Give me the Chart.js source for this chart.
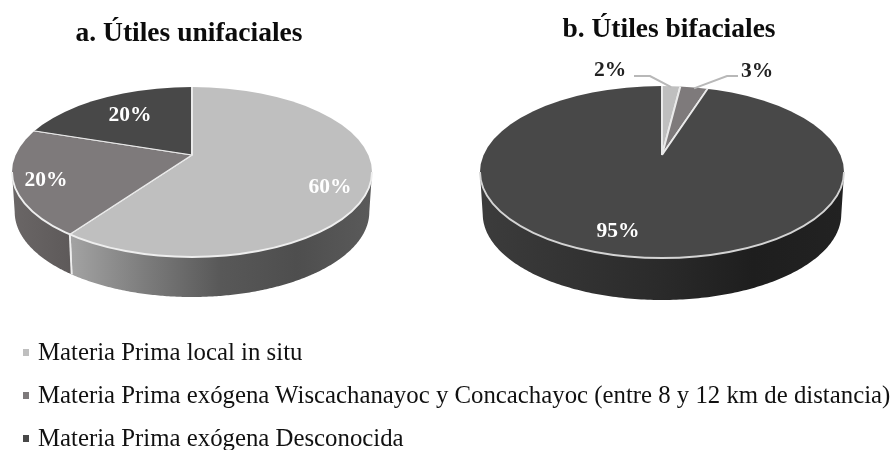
<!DOCTYPE html>
<html><head><meta charset="utf-8">
<script src="https://cdn.jsdelivr.net/npm/chart.js@4"></script>
<style>
html,body{margin:0;padding:0;background:#fff;width:894px;height:450px;overflow:hidden}
#stage{position:relative;width:894px;height:450px;overflow:hidden;filter:blur(.6px)}
canvas{position:absolute;top:0}
.lg{position:absolute;left:38px;font:24.8px "Liberation Serif",serif;color:#111;white-space:nowrap;line-height:26px}
.sq{position:absolute;left:23px;width:6px;height:7px}
</style></head><body>
<div id="stage">
<canvas id="a" width="378" height="320" style="left:0;width:378px;height:320px"></canvas>
<canvas id="b" width="400" height="320" style="left:469px;width:400px;height:320px"></canvas>
</div>
<script>
const categories = ["Materia Prima local in situ",
  "Materia Prima exógena Wiscachanayoc y Concachayoc (entre 8 y 12 km de distancia)",
  "Materia Prima exógena Desconocida"];
const titleA = "a. Útiles unifaciales";
const titleB = "b. Útiles bifaciales";
const valuesA = [60, 20, 20];
const valuesB = [2, 3, 95];
const sliceColors = ["#bfbfbf", "#7e7a7b", "#484848"];

function pointOnRim(g, theta){
  const dx = Math.cos(theta), dy = g.k * Math.sin(theta);
  const ox = (g.ax - g.cx) / g.rx, oy = (g.ay - g.cy) / g.ry;
  const A = (dx/g.rx)**2 + (dy/g.ry)**2, B = 2*(ox*dx/g.rx + oy*dy/g.ry), C = ox*ox + oy*oy - 1;
  const t = (-B + Math.sqrt(B*B - 4*A*C)) / (2*A);
  return {x: g.ax + t*dx, y: g.ay + t*dy};
}

const pie3d = {
  id: "pie3d",
  beforeDatasetsDraw(chart, _a, g){
    const ctx = chart.ctx, arcs = chart.getDatasetMeta(0).data;
    arcs.forEach((arc, i) => {
      const pts = [];
      for (let s = 0; s <= 400; s++){
        const p = pointOnRim(g, arc.startAngle + (arc.endAngle - arc.startAngle)*s/400);
        if (p.y >= g.cy) pts.push(p);
      }
      if (!pts.length) return;
      pts.sort((p, q) => p.x - q.x);
      const below = p => ({x: g.cx + (p.x - g.cx)*g.taper, y: p.y + g.depth});
      const x0 = pts[0].x, x1 = pts[pts.length-1].x;
      const grad = ctx.createLinearGradient(x0, 0, x1, 0);
      g.walls[i].forEach((c, j, all) => grad.addColorStop(j/(all.length-1), c));
      ctx.save();
      ctx.beginPath();
      pts.forEach((p, j) => j ? ctx.lineTo(p.x, p.y) : ctx.moveTo(p.x, p.y));
      for (let j = pts.length-1; j >= 0; j--){ const b = below(pts[j]); ctx.lineTo(b.x, b.y); }
      ctx.closePath();
      ctx.fillStyle = grad;
      ctx.fill();
      ctx.strokeStyle = g.edge; ctx.lineWidth = 1.8;
      [pts[0], pts[pts.length-1]].forEach(p => {
        if (p.y > g.cy + 3){
          const b = below(p);
          ctx.beginPath(); ctx.moveTo(p.x, p.y); ctx.lineTo(b.x, b.y); ctx.stroke();
        }
      });
      ctx.restore();
    });
    const arc0 = arcs[0];
    ctx.save();
    ctx.beginPath();
    ctx.ellipse(g.cx, g.cy, g.rx, g.ry, 0, 0, Math.PI*2);
    ctx.clip();
    ctx.translate(g.ax, g.ay);
    ctx.scale(1, g.k);
    ctx.translate(-arc0.x, -arc0.y);
  },
  afterDatasetsDraw(chart, _a, g){
    const ctx = chart.ctx, arcs = chart.getDatasetMeta(0).data, vals = chart.data.datasets[0].data;
    ctx.restore();
    ctx.strokeStyle = g.edge; ctx.lineWidth = 1.9;
    ctx.beginPath();
    ctx.ellipse(g.cx, g.cy, g.rx, g.ry, 0, 0, Math.PI);
    ctx.stroke();
    vals.forEach((v, i) => {
      const lab = g.labels[i];
      if (lab.elbow){
        const arc = arcs[i], rim = pointOnRim(g, (arc.startAngle + arc.endAngle)/2);
        ctx.strokeStyle = "#b8b8b8"; ctx.lineWidth = 2;
        ctx.beginPath();
        ctx.moveTo(lab.tail, lab.elbow[1]);
        ctx.lineTo(lab.elbow[0], lab.elbow[1]);
        ctx.lineTo(rim.x, rim.y + 1);
        ctx.stroke();
      }
      ctx.font = "bold 21.5px 'Liberation Serif', serif";
      ctx.textAlign = "center"; ctx.textBaseline = "middle";
      ctx.fillStyle = lab.color;
      ctx.fillText(v + "%", lab.x, lab.y);
    });
  }
};

function makePie(id, title, values, titleTop, geom){
  return new Chart(document.getElementById(id), {
    type: "pie",
    plugins: [pie3d],
    data: {labels: categories, datasets: [{
      data: values, backgroundColor: sliceColors,
      borderColor: "#eaeaea", borderWidth: 2, clip: false
    }]},
    options: {
      responsive: false, animation: false, radius: 260,
      layout: {padding: 0},
      plugins: {
        legend: {display: false}, tooltip: {enabled: false},
        title: {display: true, text: title, color: "#0c0c0c",
          font: {family: "'Liberation Serif', serif", size: 27.5, weight: "bold"},
          padding: {top: titleTop, bottom: 10}},
        pie3d: geom
      }
    }
  });
}

makePie("a", titleA, valuesA, 17, {
  ax: 192, ay: 155, cx: 192, cy: 172, rx: 180, ry: 85, k: 0.472, depth: 40, taper: 0.985, edge: "#eeeeee",
  walls: [["#a3a3a3","#7c7c7c","#585858","#4e4e4e","#5a5a5a"], ["#6a6666","#5e5a5a"], ["#333","#333"]],
  labels: [{x:330,y:187,color:"#fff"},{x:46,y:180,color:"#fff"},{x:130,y:115,color:"#fff"}]
});
makePie("b", titleB, valuesB, 13, {
  ax: 193, ay: 155, cx: 193, cy: 172, rx: 182, ry: 86, k: 0.472, depth: 42, taper: 0.985, edge: "#d4d4d4",
  walls: [["#999","#999"], ["#666","#666"], ["#3c3c3c","#333333","#2a2a2a","#1e1e1e","#222222"]],
  labels: [{x:141,y:70,color:"#222",tail:165,elbow:[181,76]},{x:288,y:71,color:"#222",tail:269,elbow:[258,76]},{x:149,y:231,color:"#fff"}]
});

const stage = document.getElementById("stage");
const rowTops = [339, 382, 425];
categories.forEach((c, i) => {
  const sq = document.createElement("div");
  sq.className = "sq"; sq.style.top = (rowTops[i] + 10) + "px"; sq.style.background = sliceColors[i];
  const t = document.createElement("div");
  t.className = "lg"; t.style.top = rowTops[i] + "px"; t.textContent = c;
  stage.append(sq, t);
});
</script>
</body></html>
